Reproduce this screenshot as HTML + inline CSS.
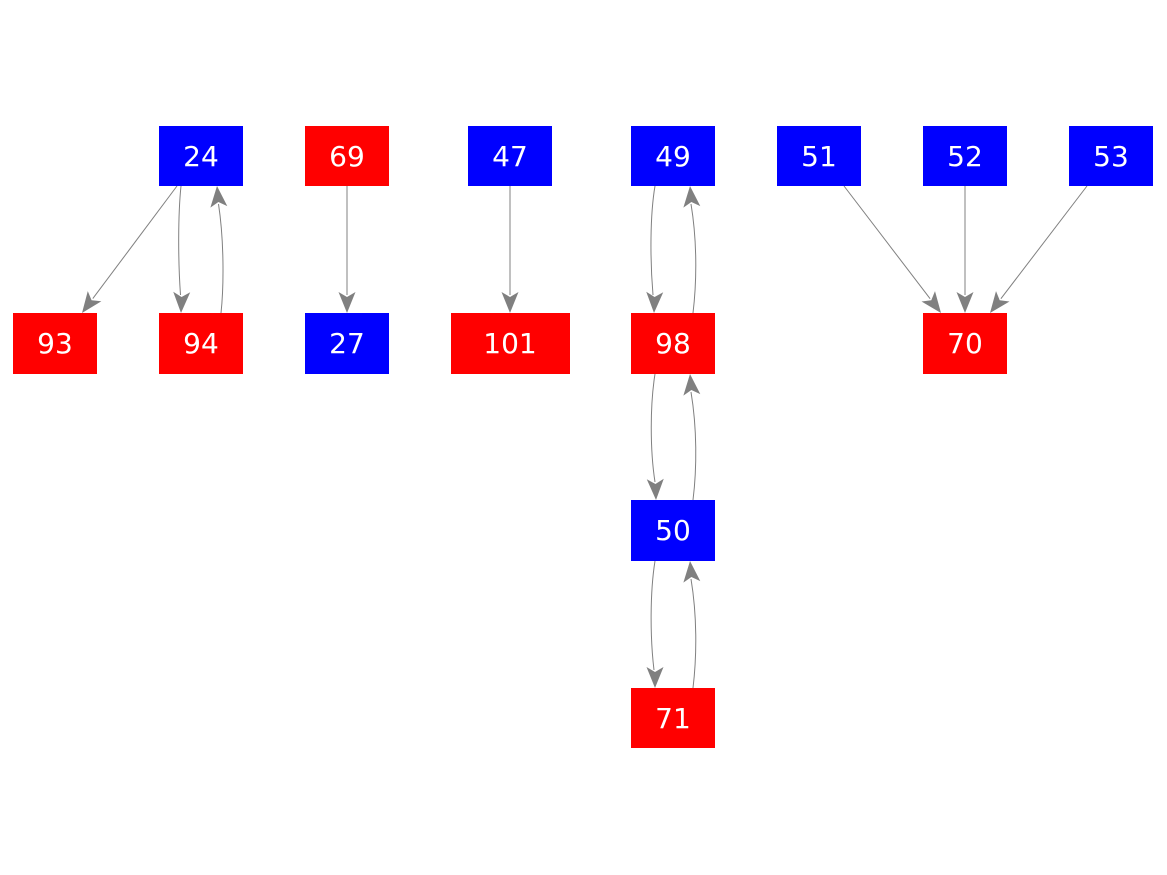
<!DOCTYPE html>
<html><head><meta charset="utf-8"><style>
html,body{margin:0;padding:0;background:#fff;}
svg{display:block;}
</style></head><body>
<svg width="1167" height="875" viewBox="0 0 1167 875" xmlns="http://www.w3.org/2000/svg">
<g stroke="#808080" stroke-width="1" fill="none">
<path d="M177,186 L92.8,298.6"/>
<path d="M181,186 C178,215 178,260 180.5,295"/>
<path d="M221,313 C224,285 224,240 218.5,204"/>
<path d="M347,186 L347,295"/>
<path d="M510,186 L510,295"/>
<path d="M655,186 C650,215 650,260 653,295"/>
<path d="M693,313 C697,280 697,240 691,204"/>
<path d="M655,374 C650,405 650,450 655,482"/>
<path d="M693,500 C697,468 697,428 691,392"/>
<path d="M655,561 C650,592 650,637 654,670"/>
<path d="M693,688 C697,655 697,615 691,579"/>
<path d="M844,186 L930.1,298.7"/>
<path d="M965,186 L965,295"/>
<path d="M1087,186 L1000.9,298.7"/>
</g>
<g fill="#808080">
<path d="M0,0 L-21,-8.5 L-16,0 L-21,8.5 z" transform="translate(82,313) rotate(126.8)"/>
<path d="M0,0 L-21,-8.5 L-16,0 L-21,8.5 z" transform="translate(181,313) rotate(92)"/>
<path d="M0,0 L-21,-8.5 L-16,0 L-21,8.5 z" transform="translate(217,186) rotate(-95)"/>
<path d="M0,0 L-21,-8.5 L-16,0 L-21,8.5 z" transform="translate(347,313) rotate(90)"/>
<path d="M0,0 L-21,-8.5 L-16,0 L-21,8.5 z" transform="translate(510,313) rotate(90)"/>
<path d="M0,0 L-21,-8.5 L-16,0 L-21,8.5 z" transform="translate(654,313) rotate(92)"/>
<path d="M0,0 L-21,-8.5 L-16,0 L-21,8.5 z" transform="translate(690,186) rotate(-95)"/>
<path d="M0,0 L-21,-8.5 L-16,0 L-21,8.5 z" transform="translate(656,500) rotate(88)"/>
<path d="M0,0 L-21,-8.5 L-16,0 L-21,8.5 z" transform="translate(690,374) rotate(-95)"/>
<path d="M0,0 L-21,-8.5 L-16,0 L-21,8.5 z" transform="translate(655,688) rotate(90)"/>
<path d="M0,0 L-21,-8.5 L-16,0 L-21,8.5 z" transform="translate(690,561) rotate(-95)"/>
<path d="M0,0 L-21,-8.5 L-16,0 L-21,8.5 z" transform="translate(941,313) rotate(52.6)"/>
<path d="M0,0 L-21,-8.5 L-16,0 L-21,8.5 z" transform="translate(965,313) rotate(90)"/>
<path d="M0,0 L-21,-8.5 L-16,0 L-21,8.5 z" transform="translate(990,313) rotate(127.4)"/>
</g>
<g>
<rect x="159" y="126" width="84" height="60" fill="#0000ff"/>
<rect x="305" y="126" width="84" height="60" fill="#ff0000"/>
<rect x="468" y="126" width="84" height="60" fill="#0000ff"/>
<rect x="631" y="126" width="84" height="60" fill="#0000ff"/>
<rect x="777" y="126" width="84" height="60" fill="#0000ff"/>
<rect x="923" y="126" width="84" height="60" fill="#0000ff"/>
<rect x="1069" y="126" width="84" height="60" fill="#0000ff"/>
<rect x="13" y="313" width="84" height="61" fill="#ff0000"/>
<rect x="159" y="313" width="84" height="61" fill="#ff0000"/>
<rect x="305" y="313" width="84" height="61" fill="#0000ff"/>
<rect x="451" y="313" width="119" height="61" fill="#ff0000"/>
<rect x="631" y="313" width="84" height="61" fill="#ff0000"/>
<rect x="923" y="313" width="84" height="61" fill="#ff0000"/>
<rect x="631" y="500" width="84" height="61" fill="#0000ff"/>
<rect x="631" y="688" width="84" height="60" fill="#ff0000"/>
</g>
<g font-family="DejaVu Sans, Liberation Sans, sans-serif" font-size="28" fill="#ffffff" text-anchor="middle">
<text x="201" y="166">24</text>
<text x="347" y="166">69</text>
<text x="510" y="166">47</text>
<text x="673" y="166">49</text>
<text x="819" y="166">51</text>
<text x="965" y="166">52</text>
<text x="1111" y="166">53</text>
<text x="55" y="353">93</text>
<text x="201" y="353">94</text>
<text x="347" y="353">27</text>
<text x="510" y="353">101</text>
<text x="673" y="353">98</text>
<text x="965" y="353">70</text>
<text x="673" y="540">50</text>
<text x="673" y="728">71</text>
</g>
</svg>
</body></html>
